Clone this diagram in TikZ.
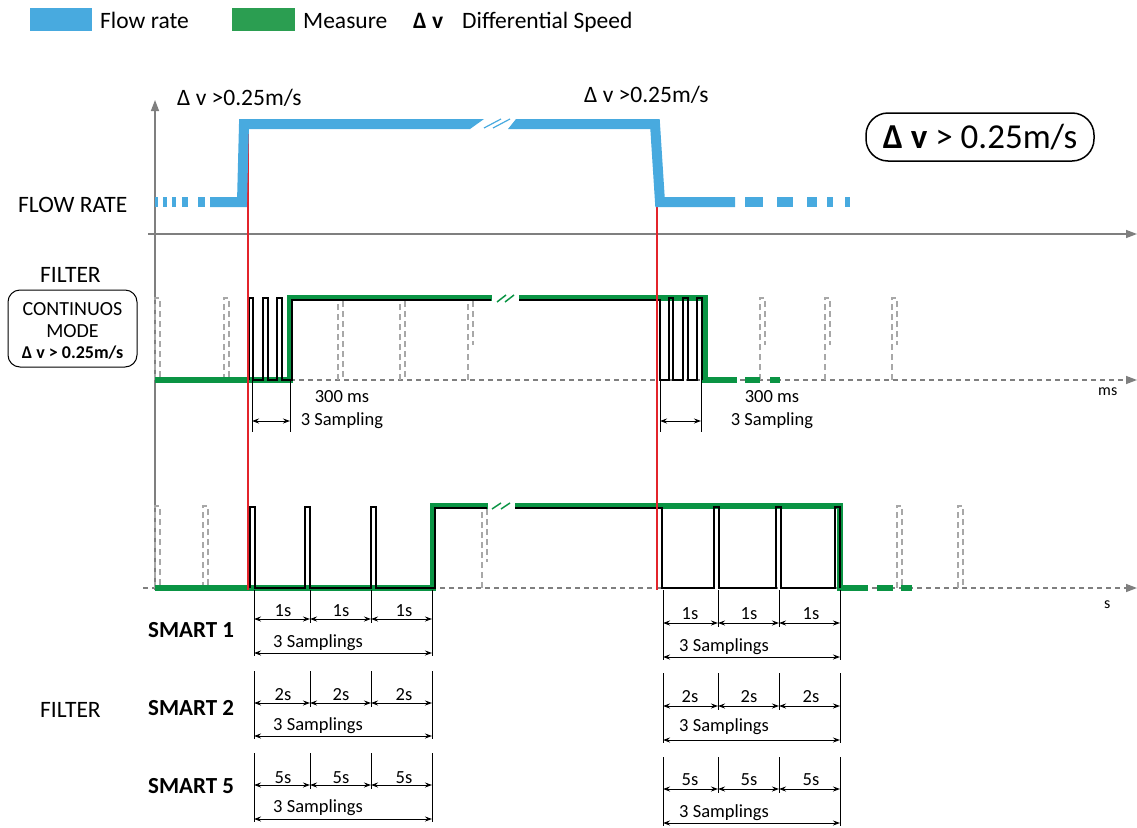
\documentclass[tikz,border=0pt]{standalone}
\usepackage{fontspec}
\setmainfont{Carlito}
\usetikzlibrary{arrows.meta}

\definecolor{flowB}{HTML}{48AADF}
\definecolor{measG}{HTML}{0A9444}
\definecolor{legG}{HTML}{2B9E51}
\definecolor{markR}{HTML}{E3242B}
\definecolor{axisGr}{HTML}{7F7F7F}
\definecolor{ghostGr}{HTML}{A8A8A8}

\tikzset{
  axisline/.style={axisGr, line width=1.4pt, -{Triangle[length=11pt,width=8pt]}},
  axisdash/.style={axisline, dash pattern=on 5pt off 4pt},
  flowline/.style={flowB, line width=10pt},
  measline/.style={measG, line width=6pt},
  sampline/.style={black, line width=1.6pt},
  ghost/.style={ghostGr, line width=1.3pt, dash pattern=on 6pt off 4pt},
  redmark/.style={markR, line width=1.2pt},
  dimline/.style={black, line width=1pt},
  dimarrow/.style={black, line width=1pt, {Stealth[length=7pt,width=5pt]}-{Stealth[length=7pt,width=5pt]}},
  lbl/.style={font=\fontsize{23.5}{28}\selectfont, inner sep=0pt},
  smalllbl/.style={font=\fontsize{18.5}{22}\selectfont, inner sep=0pt},
}

\begin{document}
\begin{tikzpicture}[x=1pt, y=-1pt]
    \useasboundingbox (0,0) rectangle (1137,827);

    % legend
    \fill[flowB] (30,8) rectangle (92,31);
    \node[lbl, anchor=base west] (legflow) at (100,28) {Flow rate};
    \fill[legG] (232,8) rectangle (295,31);
    \node[lbl, anchor=base west] (legmeas) at (303,28) {Measure};
    \node[lbl, anchor=base west] (legdv) at (413,28) {\textbf{Δ v}};
    \node[lbl, anchor=base west] (legspeed) at (462,28) {Differential Speed};

    % axes
    \draw[axisline] (155,590) -- (155,100);
    \draw[axisline] (148,234) -- (1137,234);
    \draw[axisdash] (155,380) -- (1137,380);
    \draw[axisdash] (143,588) -- (1137,588);
    \node[smalllbl, font=\fontsize{16}{19}\selectfont, anchor=base west] (unitms) at (1098,395) {ms};
    \node[smalllbl, font=\fontsize{16}{19}\selectfont, anchor=base west] (units) at (1104,608) {s};

    % left labels
    \node[lbl, anchor=base west] (flowlbl) at (18,212) {FLOW RATE};
    \node[lbl, anchor=base west] (filterlbl) at (40,282) {FILTER};
    \draw[line width=1pt, rounded corners=12pt] (8,290) rectangle (137,367);
    \node[font=\fontsize{20}{24}\selectfont, inner sep=0pt, anchor=base] (modeA) at (72.5,315) {CONTINUOS};
    \node[font=\fontsize{20}{24}\selectfont, inner sep=0pt, anchor=base] (modeB) at (72.5,337) {MODE};
    \node[font=\fontsize{18}{22}\selectfont\bfseries, inner sep=0pt, anchor=base] (modeC) at (72.5,358) {Δ v > 0.25m/s};
    \node[lbl, anchor=base west] (filterlbl2) at (40,717) {FILTER};
    \node[lbl, font=\fontsize{23}{27}\selectfont\bfseries, anchor=base west] (smartA) at (148,637) {SMART 1};
    \node[lbl, font=\fontsize{23}{27}\selectfont\bfseries, anchor=base west] (smartB) at (148,715) {SMART 2};
    \node[lbl, font=\fontsize{23}{27}\selectfont\bfseries, anchor=base west] (smartC) at (148,793) {SMART 5};

    % threshold labels
    \node[lbl, anchor=base west] (dvup) at (177,105) {Δ v >0.25m/s};
    \node[lbl, anchor=base west] (dvdown) at (584,102) {Δ v >0.25m/s};
    \draw[line width=1.5pt, rounded corners=22pt] (866,113) rectangle (1094,161);
    \node[font=\fontsize{35}{40}\selectfont, inner sep=0pt, anchor=base] (dvbox) at (980,148) {\textbf{Δ v} > 0.25m/s};

    % ghost samples
    \foreach \px/\pe in {155/380,224/380,338/380,400/380,468/345,760/345,825/345,892/345}
      \draw[ghost] (\px,380) -- (\px,298) -- ({\px+5},298) -- ({\px+5},\pe);
    \foreach \px/\pe in {155/588,203/588,482/562,897/588,958/588}
      \draw[ghost] (\px,588) -- (\px,506) -- ({\px+5},506) -- ({\px+5},\pe);

    % measure, continuous mode
    \draw[measline] (155,380) -- (290,380) -- (290,298) -- (492,298);
    \draw[measline] (519,298) -- (705,298) -- (705,380) -- (737,380);
    \draw[measline] (745,380) -- (760,380);
    \draw[measline] (770,380) -- (780,380);
    \draw[measG, line width=1.5pt] (497,302) -- (506,295);
    \draw[measG, line width=1.5pt] (505,302) -- (514,295);
    \draw[sampline] (249,380) -- (249,298) -- (253,298) -- (253,380) -- (263,380) -- (263,298)
      -- (268,298) -- (268,380) -- (277,380) -- (277,298) -- (282,298) -- (282,380)
      -- (292,380) -- (292,300) -- (491,300);
    \draw[sampline] (519,300) -- (660,300) -- (660,380) -- (669,380) -- (669,298) -- (673,298)
      -- (673,380) -- (683,380) -- (683,298) -- (688,298) -- (688,380) -- (697,380)
      -- (697,298) -- (702,298) -- (702,380);

    % measure, smart mode
    \draw[measline] (155,588) -- (433,588) -- (433,506) -- (488,506);
    \draw[measline] (515,506) -- (840,506) -- (840,588) -- (868,588);
    \draw[measline] (877,588) -- (893,588);
    \draw[measline] (901,588) -- (912,588);
    \draw[measG, line width=1.5pt] (492,509) -- (501,503);
    \draw[measG, line width=1.5pt] (501,509) -- (510,503);
    \draw[sampline] (250,588) -- (250,507) -- (255,507) -- (255,588) -- (305,588) -- (305,507)
      -- (310,507) -- (310,588) -- (371,588) -- (371,507) -- (376,507) -- (376,588)
      -- (435,588) -- (435,508) -- (487,508);
    \draw[sampline] (515,508) -- (662,508) -- (662,588) -- (714,588) -- (714,507) -- (719,507)
      -- (719,588) -- (776,588) -- (776,507) -- (781,507) -- (781,588) -- (835,588)
      -- (835,507) -- (840,507) -- (840,588);

    % trigger marks
    \draw[redmark] (248,126) -- (248,590);
    \draw[redmark] (657,203) -- (657,590);

    % flow rate
    \foreach \a/\b in {155/158,163/167,172/176,182/188,198/205,745/763,777/793,807/817,827/833,845/850}
      \draw[flowline] (\a,202) -- (\b,202);
    \draw[flowline] (210,202) -- (242,202) -- (244,124) -- (470,124);
    \fill[flowB] (470,119) -- (484,119) -- (470,129) -- cycle;
    \fill[flowB] (508,129) -- (516,119) -- (516,129) -- cycle;
    \draw[flowline] (516,124) -- (655,124) -- (660,202) -- (735,202);
    \draw[flowB, line width=1.2pt] (484,128) -- (501,119);
    \draw[flowB, line width=1.2pt] (493,128) -- (510,119);

    % sampling windows, continuous mode
    \foreach \xa/\xb/\xt in {252/290/342,660/701/772}{
      \draw[dimline] (\xa,380) -- (\xa,432);
      \draw[dimline] (\xb,380) -- (\xb,432);
      \draw[dimarrow] (\xa,421) -- (\xb,421);
      \node[smalllbl, anchor=base] (ms\xa) at (\xt,402) {300 ms};
      \node[smalllbl, anchor=base] (samp\xa) at (\xt,425) {3 Sampling};
    }

    % sampling windows, smart modes
    \foreach \lab/\yt/\ya/\yl/\yb/\yg in {1s/590/619/616/647/653,2s/671/703/700/730/736,5s/753/785/783/812/819}{
      \draw[dimline] (254,\yt) -- (254,{\yg+3});
      \draw[dimline] (310,\yt) -- (310,{\ya+4});
      \draw[dimline] (371,\yt) -- (371,{\ya+4});
      \draw[dimline] (432,\yt) -- (432,{\yg+3});
      \draw[dimarrow] (254,\ya) -- (310,\ya);
      \draw[dimarrow] (310,\ya) -- (371,\ya);
      \draw[dimarrow] (371,\ya) -- (432,\ya);
      \draw[dimarrow] (254,\yg) -- (432,\yg);
      \node[smalllbl, anchor=base] (la\lab) at (283,\yl) {\lab};
      \node[smalllbl, anchor=base] (lb\lab) at (341,\yl) {\lab};
      \node[smalllbl, anchor=base] (lc\lab) at (404,\yl) {\lab};
      \node[smalllbl, anchor=base west] (lt\lab) at (273,\yb) {3 Samplings};
    }
    \foreach \lab/\yt/\ya/\yl/\yb/\yg in {1s/590/623/619/651/657,2s/673/706/702/731/740,5s/757/789/785/817/823}{
      \draw[dimline] (663,\yt) -- (663,{\yg+3});
      \draw[dimline] (718,\yt) -- (718,{\ya+4});
      \draw[dimline] (779,\yt) -- (779,{\ya+4});
      \draw[dimline] (840,\yt) -- (840,{\yg+3});
      \draw[dimarrow] (663,\ya) -- (718,\ya);
      \draw[dimarrow] (718,\ya) -- (779,\ya);
      \draw[dimarrow] (779,\ya) -- (840,\ya);
      \draw[dimarrow] (663,\yg) -- (840,\yg);
      \node[smalllbl, anchor=base] (ra\lab) at (690,\yl) {\lab};
      \node[smalllbl, anchor=base] (rb\lab) at (749,\yl) {\lab};
      \node[smalllbl, anchor=base] (rc\lab) at (811,\yl) {\lab};
      \node[smalllbl, anchor=base west] (rt\lab) at (679,\yb) {3 Samplings};
    }
  \end{tikzpicture}
\end{document}
